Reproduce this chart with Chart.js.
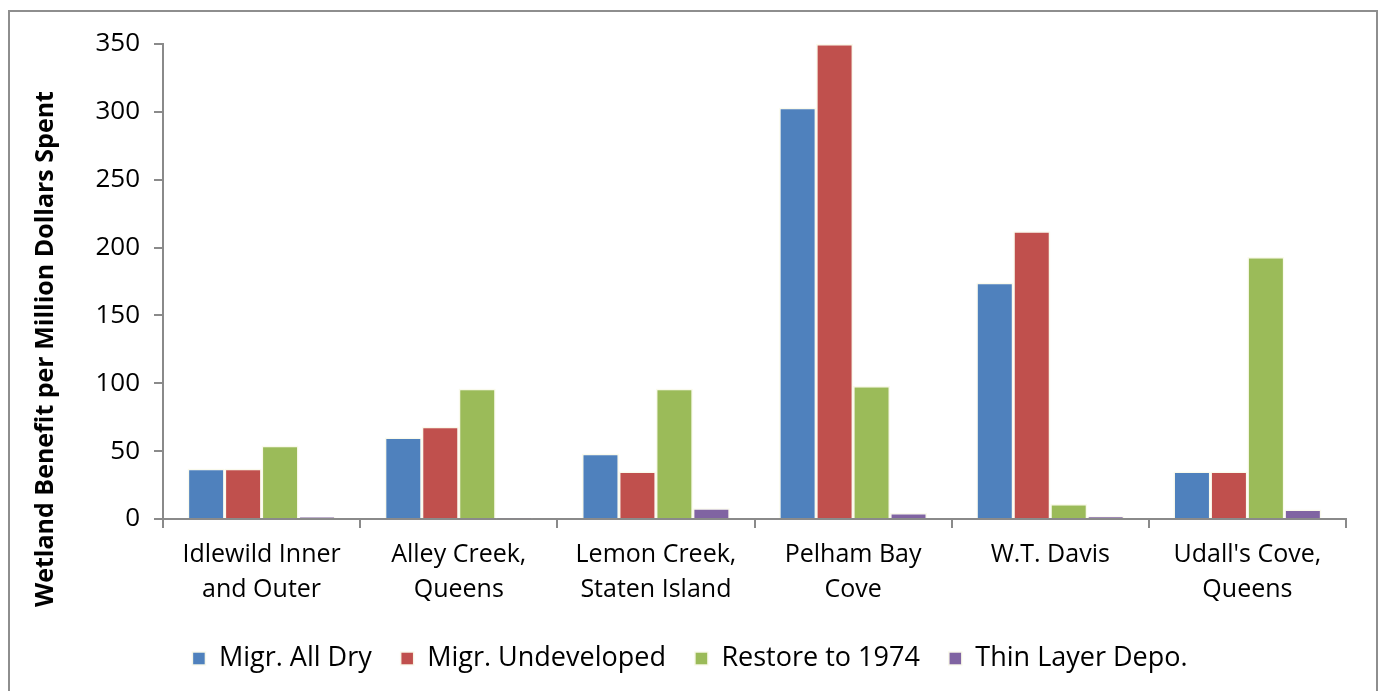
<!DOCTYPE html>
<html>
<head>
<meta charset="utf-8">
<script src="https://cdn.jsdelivr.net/npm/chart.js@4"></script>
<style>
  body { margin: 0; background: #fff; overflow: hidden; }
  #frame { position: absolute; left: 8px; top: 10px; width: 1366px; height: 700px; border: 2px solid #8e8e8e; }
  #chart { position: absolute; left: 0; top: 0; }
</style>
</head>
<body>
<div id="frame"></div>
<canvas id="chart" width="1380" height="691"></canvas>
<script>
const sites = [
  ['Idlewild Inner', 'and Outer'],
  ['Alley Creek,', 'Queens'],
  ['Lemon Creek,', 'Staten Island'],
  ['Pelham Bay', 'Cove'],
  ['W.T. Davis'],
  ["Udall's Cove,", 'Queens']
];
const allDry = [37, 60, 48, 303, 174, 35];
const undeveloped = [37, 68, 35, 350, 212, 35];
const restore1974 = [54, 96, 96, 98, 11, 193];
const thinLayer = [1.5, 0.5, 8, 4.5, 2, 7];
const yTitle = 'Wetland Benefit per Million Dollars Spent';

const font = "'Open Sans', 'Noto Sans', sans-serif";
const axisGray = '#8a8a8a';

function ds(label, data, color) {
  return {
    label: label,
    data: data,
    backgroundColor: color,
    borderColor: 'rgba(250,250,235,0.95)',
    borderWidth: 1.5,
    categoryPercentage: 0.75,
    barPercentage: 1.0
  };
}

// the y title sits lower than the axis middle in the original, so draw it by hand
const sideTitle = {
  id: 'sideTitle',
  afterDraw(chart) {
    const c = chart.ctx;
    c.save();
    c.translate(46, 349);
    c.rotate(-Math.PI / 2);
    c.font = 'bold 25px ' + font;
    c.fillStyle = '#000';
    c.textAlign = 'center';
    c.textBaseline = 'middle';
    c.fillText(yTitle, 0, 0);
    c.restore();
  }
};

const ctx = document.getElementById('chart').getContext('2d');
new Chart(ctx, {
  type: 'bar',
  data: {
    labels: sites,
    datasets: [
      ds('Migr. All Dry', allDry, '#4f81bd'),
      ds('Migr. Undeveloped', undeveloped, '#c0504d'),
      ds('Restore to 1974', restore1974, '#9bbb59'),
      ds('Thin Layer Depo.', thinLayer, '#8064a2')
    ]
  },
  plugins: [sideTitle],
  options: {
    responsive: false,
    animation: false,
    layout: { padding: { left: 34, right: 34, top: 44, bottom: 9 } },
    plugins: {
      tooltip: { enabled: false },
      legend: {
        position: 'bottom',
        labels: {
          boxWidth: 13,
          boxHeight: 13,
          padding: 29,
          color: '#000',
          font: { family: font, size: 27 }
        }
      }
    },
    scales: {
      x: {
        grid: { drawOnChartArea: false, color: axisGray, tickLength: 9, lineWidth: 2 },
        border: { color: axisGray, width: 2 },
        ticks: { color: '#000', font: { family: font, size: 25, lineHeight: 1.4 }, maxRotation: 0, padding: 9 }
      },
      y: {
        min: 0,
        max: 350,
        afterFit: function (s) { s.width = 129; },
        grid: { drawOnChartArea: false, color: axisGray, tickLength: 9, lineWidth: 2 },
        border: { color: axisGray, width: 2 },
        ticks: { stepSize: 50, color: '#000', font: { family: font, size: 26 }, padding: 14 }
      }
    }
  }
});
</script>
</body>
</html>
